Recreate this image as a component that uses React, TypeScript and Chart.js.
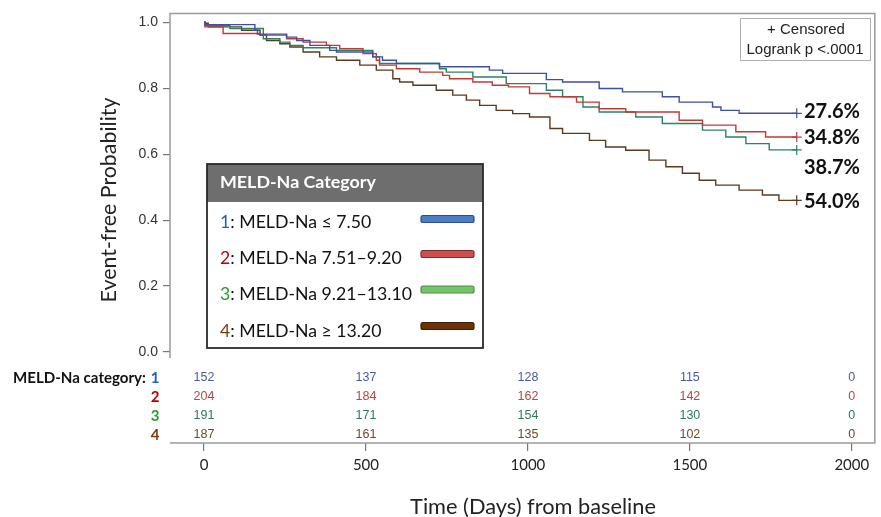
import React, { useEffect, useRef } from "react";
import { Chart, registerables } from "chart.js";

Chart.register(...registerables);

// ---------- data ----------
const groupNumbers = ["1", "2", "3", "4"];
const legendTexts = [
  ": MELD-Na \u2264 7.50",
  ": MELD-Na 7.51\u20139.20",
  ": MELD-Na 9.21\u201313.10",
  ": MELD-Na \u2265 13.20",
];
const endPercents = ["27.6%", "34.8%", "38.7%", "54.0%"];
const endTime = 1830;

const blueTimes = [0, 3, 157, 165, 255, 286, 327, 388, 409, 521, 551, 594, 727, 881, 922, 1057, 1107, 1220, 1292, 1415, 1467, 1570, 1596, 1652];
const blueSurv = [1.0, 0.993, 0.976, 0.964, 0.955, 0.945, 0.93, 0.915, 0.91, 0.895, 0.885, 0.875, 0.865, 0.855, 0.845, 0.826, 0.819, 0.799, 0.789, 0.774, 0.758, 0.743, 0.733, 0.724];

const redTimes = [0, 3, 59, 173, 255, 306, 378, 419, 491, 532, 542, 594, 666, 737, 758, 830, 890, 940, 1005, 1068, 1150, 1220, 1302, 1467, 1539, 1642, 1734];
const redSurv = [1.0, 0.986, 0.966, 0.961, 0.95, 0.94, 0.93, 0.92, 0.905, 0.885, 0.87, 0.859, 0.849, 0.839, 0.829, 0.819, 0.809, 0.804, 0.784, 0.774, 0.758, 0.738, 0.728, 0.703, 0.688, 0.668, 0.652];

const greenTimes = [0, 3, 80, 183, 234, 265, 306, 409, 521, 542, 727, 748, 830, 933, 1057, 1107, 1170, 1220, 1333, 1415, 1539, 1611, 1673, 1745];
const greenSurv = [1.0, 0.99, 0.981, 0.95, 0.94, 0.93, 0.923, 0.915, 0.895, 0.875, 0.859, 0.849, 0.834, 0.814, 0.794, 0.774, 0.743, 0.728, 0.713, 0.693, 0.673, 0.652, 0.632, 0.613];

const brownTimes = [0, 3, 13, 116, 173, 193, 234, 265, 306, 357, 409, 481, 532, 583, 604, 645, 717, 768, 810, 851, 902, 953, 1005, 1068, 1107, 1190, 1240, 1302, 1374, 1426, 1477, 1529, 1580, 1652, 1724, 1775];
const brownSurv = [1.0, 0.997, 0.986, 0.976, 0.961, 0.945, 0.935, 0.925, 0.91, 0.895, 0.885, 0.87, 0.855, 0.829, 0.819, 0.809, 0.794, 0.779, 0.764, 0.748, 0.733, 0.723, 0.713, 0.678, 0.663, 0.642, 0.622, 0.612, 0.582, 0.562, 0.542, 0.521, 0.506, 0.491, 0.476, 0.46];

const atRiskTimes = [0, 500, 1000, 1500, 2000];
const atRisk1 = [152, 137, 128, 115, 0];
const atRisk2 = [204, 184, 162, 142, 0];
const atRisk3 = [191, 171, 154, 130, 0];
const atRisk4 = [187, 161, 135, 102, 0];

const xTickValues = [0, 500, 1000, 1500, 2000];
const yTickValues = [0, 0.2, 0.4, 0.6, 0.8, 1.0];

// ---------- styles ----------
const lineColors = ["#3f4fa3", "#c23a36", "#2b8266", "#5b3a1e"];
const numberColors = ["#1f5fbf", "#c00000", "#2a9a2a", "#7a3a10"];
const riskColors = ["#4a5aa8", "#b84444", "#2a7a5a", "#6b4a2a"];
const swatchFill = ["#4a7cc8", "#c9504d", "#74c46c", "#6b3108"];
const swatchBorder = ["#2a4f8a", "#8b2b2b", "#4e8f3e", "#3f1c02"];

function toPoints(times: number[], surv: number[]) {
  const pts = times.map((t, i) => ({ x: t, y: surv[i] }));
  pts.push({ x: endTime, y: surv[surv.length - 1] });
  return pts;
}

function fitFont(ctx: CanvasRenderingContext2D, text: string, width: number, weight: string, family: string) {
  ctx.font = `${weight} 100px ${family}`;
  const w = ctx.measureText(text).width;
  const size = (100 * width) / w;
  return `${weight} ${size.toFixed(2)}px ${family}`;
}

const SANS = "Lato, 'Open Sans', 'DejaVu Sans', sans-serif";
const ARIAL = "'Liberation Sans', Arial, sans-serif";

const overlayPlugin = {
  id: "overlay",
  afterDraw(chart: any) {
    const ctx: CanvasRenderingContext2D = chart.ctx;
    const ca = chart.chartArea;
    const xs = chart.scales.x;
    const ys = chart.scales.y;
    ctx.save();

    // frame
    ctx.strokeStyle = "#9a9a9a";
    ctx.lineWidth = 1.5;
    ctx.beginPath();
    ctx.moveTo(ca.left, ys.getPixelForValue(0) + 6);
    ctx.lineTo(ca.left, ca.top);
    ctx.lineTo(ca.right, ca.top);
    ctx.lineTo(ca.right, ca.bottom);
    ctx.lineTo(ca.left, ca.bottom);
    ctx.stroke();

    // y title
    ctx.fillStyle = "#222";
    ctx.save();
    ctx.translate(109, 200);
    ctx.rotate(-Math.PI / 2);
    ctx.font = fitFont(ctx, "Event-free Probability", 205, "normal", SANS);
    ctx.textAlign = "center";
    ctx.textBaseline = "middle";
    ctx.fillText("Event-free Probability", 0, 0);
    ctx.restore();

    // x title
    ctx.font = fitFont(ctx, "Time (Days) from baseline", 246, "normal", SANS);
    ctx.textAlign = "center";
    ctx.textBaseline = "alphabetic";
    ctx.fillText("Time (Days) from baseline", 533, 514);

    // censored box
    ctx.strokeStyle = "#b0b0b0";
    ctx.lineWidth = 1;
    ctx.strokeRect(740.5, 18.5, 130, 42);
    ctx.fillStyle = "#222";
    const cFont = fitFont(ctx, "Logrank p <.0001", 117, "normal", ARIAL);
    ctx.font = cFont;
    ctx.textAlign = "center";
    ctx.textBaseline = "middle";
    ctx.fillText("+ Censored", 806, 29.5);
    ctx.fillText("Logrank p <.0001", 805, 50);

    // percent labels
    const pFont = fitFont(ctx, endPercents[0], 56, "bold", SANS);
    ctx.font = pFont;
    ctx.fillStyle = "#111";
    ctx.textAlign = "left";
    ctx.textBaseline = "middle";
    const pY = [112, 138, 168, 202];
    endPercents.forEach((p, i) => ctx.fillText(p, 804, pY[i]));

    // legend box
    const lx = 207, ly = 164, lw = 276, lh = 184, hh = 38;
    ctx.fillStyle = "#ffffff";
    ctx.fillRect(lx, ly, lw, lh);
    ctx.fillStyle = "#6e6e6e";
    ctx.fillRect(lx, ly, lw, hh);
    ctx.strokeStyle = "#2a2a2a";
    ctx.lineWidth = 1.8;
    ctx.strokeRect(lx, ly, lw, lh);
    ctx.fillStyle = "#ffffff";
    ctx.font = fitFont(ctx, "MELD-Na Category", 156, "bold", SANS);
    ctx.textAlign = "left";
    ctx.textBaseline = "middle";
    ctx.fillText("MELD-Na Category", 220, 182);

    const eFont = fitFont(ctx, "3" + legendTexts[2], 192, "normal", SANS);
    const rowY = [222, 258, 294.5, 331];
    const swY = [219, 254, 289.5, 326];
    for (let i = 0; i < 4; i++) {
      ctx.font = eFont;
      ctx.fillStyle = numberColors[i];
      ctx.fillText(groupNumbers[i], 220, rowY[i]);
      const nw = ctx.measureText(groupNumbers[i]).width;
      ctx.fillStyle = "#111";
      ctx.fillText(legendTexts[i], 220 + nw, rowY[i]);
      // swatch
      const sx = 421, sw = 53, sh = 7;
      ctx.fillStyle = swatchFill[i];
      ctx.strokeStyle = swatchBorder[i];
      ctx.lineWidth = 1.2;
      ctx.beginPath();
      (ctx as any).roundRect(sx, swY[i] - sh / 2, sw, sh, 2);
      ctx.fill();
      ctx.stroke();
    }

    // at-risk table
    const rY = [378, 397, 416, 435];
    ctx.font = fitFont(ctx, "MELD-Na category:", 133, "bold", SANS);
    const boldFont = ctx.font;
    ctx.fillStyle = "#111";
    ctx.textAlign = "left";
    ctx.textBaseline = "middle";
    ctx.fillText("MELD-Na category:", 13, rY[0]);
    ctx.textAlign = "center";
    for (let i = 0; i < 4; i++) {
      ctx.font = boldFont;
      ctx.fillStyle = numberColors[i];
      ctx.fillText(groupNumbers[i], 155, rY[i]);
    }
    const rows = [atRisk1, atRisk2, atRisk3, atRisk4];
    ctx.font = `12.5px ${ARIAL}`;
    rows.forEach((row, i) => {
      ctx.fillStyle = riskColors[i];
      row.forEach((v, j) => {
        ctx.fillText(String(v), xs.getPixelForValue(atRiskTimes[j]), rY[i]);
      });
    });

    ctx.restore();
  },
};

export default function App() {
  const ref = useRef<HTMLCanvasElement | null>(null);

  useEffect(() => {
    if (!ref.current) return;
    const series = [
      toPoints(blueTimes, blueSurv),
      toPoints(redTimes, redSurv),
      toPoints(greenTimes, greenSurv),
      toPoints(brownTimes, brownSurv),
    ];
    const lineSets = series.map((pts, i) => ({
      type: "line" as const,
      data: pts,
      borderColor: lineColors[i],
      backgroundColor: lineColors[i],
      borderWidth: 1.4,
      pointRadius: 0,
      stepped: true as const,
      fill: false,
      tension: 0,
    }));
    const censorSets = series.map((pts, i) => ({
      type: "scatter" as const,
      data: [pts[pts.length - 1]],
      borderColor: lineColors[i],
      backgroundColor: lineColors[i],
      pointStyle: "cross" as const,
      pointRadius: 5,
      borderWidth: 1.2,
    }));

    const chart = new Chart(ref.current, {
      type: "line",
      data: { datasets: [...lineSets, ...censorSets] as any },
      options: {
        animation: false,
        responsive: false,
        layout: { padding: { top: 13, right: 5, left: 0, bottom: 0 } },
        plugins: { legend: { display: false }, tooltip: { enabled: false } },
        scales: {
          x: {
            type: "linear",
            min: -105,
            max: 2071,
            afterBuildTicks: (s: any) => {
              s.ticks = xTickValues.map((v) => ({ value: v }));
            },
            afterFit: (s: any) => {
              s.height = 74;
            },
            ticks: {
              autoSkip: false,
              maxRotation: 0,
              padding: 5,
              color: "#222",
              font: { family: SANS, size: 15 },
              callback: (v: any) => String(v),
            },
            grid: { display: true, drawOnChartArea: false, drawTicks: true, tickLength: 8, color: "#777", lineWidth: 1.2 },
            border: { display: false },
          },
          y: {
            type: "linear",
            min: -0.276,
            max: 1.027,
            afterBuildTicks: (s: any) => {
              s.ticks = yTickValues.map((v) => ({ value: v }));
            },
            afterFit: (s: any) => {
              s.width = 170;
            },
            ticks: {
              padding: 5,
              color: "#333",
              font: { family: ARIAL, size: 14 },
              callback: (v: any) => Number(v).toFixed(1),
            },
            grid: { display: true, drawOnChartArea: false, drawTicks: true, tickLength: 7, color: "#777", lineWidth: 1.2 },
            border: { display: false },
          },
        },
      },
      plugins: [overlayPlugin],
    });
    return () => chart.destroy();
  }, []);

  return (
    <div style={{ position: "absolute", left: 0, top: 0, width: 881, height: 517, background: "#fff" }}>
      <canvas ref={ref} width={881} height={517} style={{ display: "block", width: 881, height: 517 }} />
    </div>
  );
}
